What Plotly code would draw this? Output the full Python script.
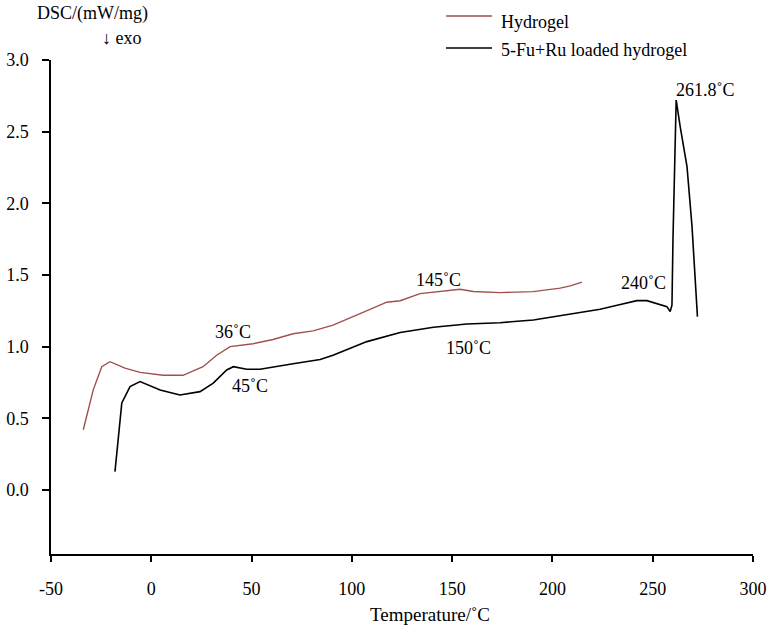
import plotly.graph_objects as go

# Hydrogel (reddish-brown curve)
hyd_T = [-33.9, -28.9, -24.7, -20.6, -13.1, -5.6, 5.9, 15.8, 25.8, 32.6, 39.3, 50.7,
         60.7, 70.7, 80.7, 90.6, 104.1, 117.4, 124.1, 134.0, 154.0, 160.5, 173.9,
         190.4, 203.9, 208.9, 214.7]
hyd_Y = [0.42, 0.70, 0.86, 0.895, 0.85, 0.82, 0.80, 0.80, 0.86, 0.94, 1.00, 1.02,
         1.05, 1.09, 1.11, 1.15, 1.23, 1.31, 1.32, 1.37, 1.40, 1.385, 1.377,
         1.384, 1.408, 1.424, 1.45]

# 5-Fu+Ru loaded hydrogel (black curve)
drug_T = [-18.1, -14.7, -10.6, -5.6, 4.4, 14.3, 24.3, 30.9, 37.6, 40.9, 47.6, 54.2,
          70.7, 84.2, 90.6, 107.5, 124.1, 140.7, 157.3, 173.9, 190.5, 207.2,
          223.8, 232.8, 242.1, 247.1, 257.1, 258.7, 259.6, 260.1, 261.2, 261.7,
          263.7, 267.1, 269.6, 271.2, 272.3]
drug_Y = [0.128, 0.607, 0.721, 0.756, 0.698, 0.663, 0.686, 0.745, 0.837, 0.86, 0.842, 0.842,
          0.88, 0.91, 0.94, 1.035, 1.098, 1.135, 1.158, 1.167, 1.186, 1.221,
          1.261, 1.291, 1.321, 1.321, 1.279, 1.244, 1.29, 1.745, 2.49, 2.72,
          2.535, 2.256, 1.837, 1.488, 1.209]

# Peak labels: (text, T, Y)
lbl_text = ["36˚C", "45˚C", "145˚C", "150˚C", "240˚C", "261.8˚C"]
lbl_T = [40.9, 49.3, 143.2, 158.1, 245.4, 276.2]
lbl_Y = [1.105, 0.726, 1.465, 0.989, 1.447, 2.79]

x_ticks = [-50, 0, 50, 100, 150, 200, 250, 300]
y_ticks = [0.0, 0.5, 1.0, 1.5, 2.0, 2.5, 3.0]

RED = "#A0504B"
FONT = "Liberation Serif"

L, R, T, B = 51, 18, 60, 78
PW, PH = 771 - L - R, 632 - T - B


def px(xp):
    return (xp - L) / PW


def py(yp):
    return (632 - B - yp) / PH


fig = go.Figure()
fig.add_trace(go.Scatter(x=hyd_T, y=hyd_Y, mode="lines", name="Hydrogel",
                         line=dict(color=RED, width=1.4), showlegend=False))
fig.add_trace(go.Scatter(x=drug_T, y=drug_Y, mode="lines", name="5-Fu+Ru loaded hydrogel",
                         line=dict(color="black", width=1.6), showlegend=False))

for t, x, y in zip(lbl_text, lbl_T, lbl_Y):
    fig.add_annotation(x=x, y=y, text=t, showarrow=False,
                       font=dict(family=FONT, size=18, color="black"))

# Legend (drawn manually to match the original layout)
legend_items = [("Hydrogel", RED, 16, 22), ("5-Fu+Ru loaded hydrogel", "black", 48, 50)]
for name, col, ly, ty in legend_items:
    fig.add_shape(type="line", xref="paper", yref="paper",
                  x0=px(446), x1=px(492), y0=py(ly), y1=py(ly),
                  line=dict(color=col, width=1.5))
    fig.add_annotation(xref="paper", yref="paper", x=px(499), y=py(ty),
                       xanchor="left", yanchor="middle", text=name, showarrow=False,
                       font=dict(family=FONT, size=18, color="black"))

# Axis titles
fig.add_annotation(xref="paper", yref="paper", x=px(92), y=py(14),
                   text="DSC/(mW/mg)", showarrow=False, xanchor="center", yanchor="middle",
                   font=dict(family=FONT, size=18, color="black"))
fig.add_annotation(xref="paper", yref="paper", x=px(122), y=py(38),
                   text="↓ exo", showarrow=False, xanchor="center", yanchor="middle",
                   font=dict(family=FONT, size=18, color="black"))
fig.add_annotation(xref="paper", yref="paper", x=px(430), y=py(614),
                   text="Temperature/˚C", showarrow=False, xanchor="center", yanchor="middle",
                   font=dict(family=FONT, size=19, color="black"))

fig.update_layout(
    width=771, height=632,
    margin=dict(l=L, r=R, t=T, b=B, autoexpand=False),
    paper_bgcolor="white", plot_bgcolor="white",
    font=dict(family=FONT, size=18, color="black"),
    hovermode=False,
    xaxis=dict(range=[-50, 300], tickvals=x_ticks, ticktext=[str(v) for v in x_ticks],
               showgrid=False, zeroline=False, showline=True, linecolor="black",
               linewidth=1.5, ticks="outside", ticklen=6, tickwidth=1.5, tickcolor="black",
               ticklabelstandoff=12, automargin=False, tickfont=dict(family=FONT, size=18)),
    yaxis=dict(range=[-0.447, 3.0], tickvals=y_ticks, ticktext=[f"{v:.1f}" for v in y_ticks],
               showgrid=False, zeroline=False, showline=True, linecolor="black",
               linewidth=1.5, ticks="outside", ticklen=7, tickwidth=1.5, tickcolor="black",
               ticklabelstandoff=10, automargin=False, tickfont=dict(family=FONT, size=18)),
)

fig.write_html("out.html", config={"displayModeBar": False},
               post_script="document.body.style.margin='0';document.body.style.overflow='hidden';")
